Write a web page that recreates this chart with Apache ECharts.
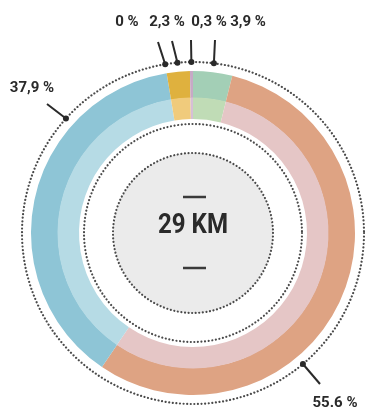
<!DOCTYPE html>
<html>
<head>
<meta charset="utf-8">
<script src="https://cdn.jsdelivr.net/npm/echarts@6/dist/echarts.min.js"></script>
<style>
html,body{margin:0;padding:0;background:#fff;}
#c{width:365px;height:410px;}
</style>
</head>
<body>
<div id="c"></div>
<script>
const categories = ['Vert', 'Orange', 'Bleu', 'Zéro', 'Jaune', 'Violet'];
const values = [3.9, 55.6, 37.9, 0, 2.3, 0.3];
const valueLabels = ['3,9 %', '55.6 %', '37,9 %', '0 %', '2,3 %', '0,3 %'];
const centerLabel = '29 KM';
const outerColors = ['#a3cfb6', '#dea383', '#8ec5d6', '#8ec5d6', '#dfb13e', '#c7a9c6'];
const innerColors = ['#c0dcb6', '#e5c6c6', '#b6dbe5', '#b6dbe5', '#f0cb7c', '#d6bfd6'];

const FONT = "Roboto, 'Liberation Sans Narrow', sans-serif";
const CX = 193, CY = 233, R_DOT = 171;
// label layout (annotation placement)
const labelPos = {0: [248, 22], 1: [335, 403], 2: [32, 88], 3: [127, 22], 4: [167, 22], 5: [209, 22]};
const lineEnd = {0: [215, 40], 1: [320, 384], 2: [47, 104], 3: [158, 42], 4: [172, 41], 5: [191, 40]};
const fixedAngle = {1: 140, 2: -48};

const total = values.reduce((a, b) => a + b, 0);
function midAngle(i) {
  let cum = 0;
  for (let k = 0; k < i; k++) cum += values[k];
  return (cum + values[i] / 2) / total * 360;
}
function dotPoint(i) {
  const a = (fixedAngle[i] !== undefined ? fixedAngle[i] : midAngle(i)) * Math.PI / 180;
  return [CX + R_DOT * Math.sin(a), CY - R_DOT * Math.cos(a)];
}

const pieData = (colors) => categories.map((c, i) => ({name: c, value: values[i], itemStyle: {color: colors[i]}}));

const dotted = (r, extra) => Object.assign({
  type: 'circle',
  shape: {cx: CX, cy: CY, r: r},
  style: {fill: 'none', stroke: '#4a4a4a', lineWidth: 2.2, lineDash: [0.01, 3.6], lineCap: 'round'},
  silent: true
}, extra || {});

const graphics = [
  dotted(R_DOT, {z: 1}),
  dotted(109, {z: 5}),
  {type: 'circle', shape: {cx: CX, cy: CY, r: 80}, style: {fill: '#ebebeb'}, z: 4, silent: true},
  dotted(80, {z: 5}),
  {type: 'line', shape: {x1: 183, y1: 197, x2: 206, y2: 197}, style: {stroke: '#3a3a3a', lineWidth: 2.5}, z: 6},
  {type: 'line', shape: {x1: 183, y1: 268, x2: 206, y2: 268}, style: {stroke: '#3a3a3a', lineWidth: 2.5}, z: 6},
  {type: 'text', x: CX, y: 226, scaleX: 0.86, originX: 0, originY: 0,
   style: {text: centerLabel, fontFamily: FONT, fontWeight: 'bold', fontSize: 28, fill: '#2a2a2a', textAlign: 'center', textVerticalAlign: 'middle'}, z: 6}
];
categories.forEach((c, i) => {
  const p = dotPoint(i);
  graphics.push({type: 'circle', shape: {cx: p[0], cy: p[1], r: 3}, style: {fill: '#2a2a2a'}, z: 8, silent: true});
});

const chart = echarts.init(document.getElementById('c'), null, {renderer: 'canvas'});
chart.setOption({
  backgroundColor: '#ffffff',
  animation: false,
  graphic: graphics,
  series: [
    {
      type: 'pie', center: [CX, CY], radius: [135, 162], startAngle: 90, clockwise: true,
      silent: true, label: {show: false}, labelLine: {show: false},
      itemStyle: {borderWidth: 0}, data: pieData(outerColors), z: 2
    },
    {
      type: 'pie', center: [CX, CY], radius: [114, 135.5], startAngle: 90, clockwise: true,
      silent: true, label: {show: false}, labelLine: {show: false},
      itemStyle: {borderWidth: 0}, data: pieData(innerColors), z: 2
    },
    {
      type: 'pie', center: [CX, CY], radius: [R_DOT - 0.5, R_DOT], startAngle: 90, clockwise: true,
      silent: true, avoidLabelOverlap: false, z: 7,
      itemStyle: {color: 'rgba(0,0,0,0)', borderWidth: 0},
      label: {
        show: true, position: 'outside',
        formatter: (p) => valueLabels[p.dataIndex],
        fontFamily: FONT, fontWeight: 'bold', fontSize: 15, color: '#2a2a2a'
      },
      labelLine: {show: true, lineStyle: {color: '#2a2a2a', width: 2}},
      labelLayout: function (params) {
        const i = params.dataIndex;
        const d = dotPoint(i);
        const e = lineEnd[i];
        return {
          x: labelPos[i][0], y: labelPos[i][1], align: 'center', verticalAlign: 'middle',
          labelLinePoints: [d, [(d[0] + e[0]) / 2, (d[1] + e[1]) / 2], e]
        };
      },
      data: categories.map((c, i) => ({name: c, value: values[i]}))
    }
  ]
});
</script>
</body>
</html>
